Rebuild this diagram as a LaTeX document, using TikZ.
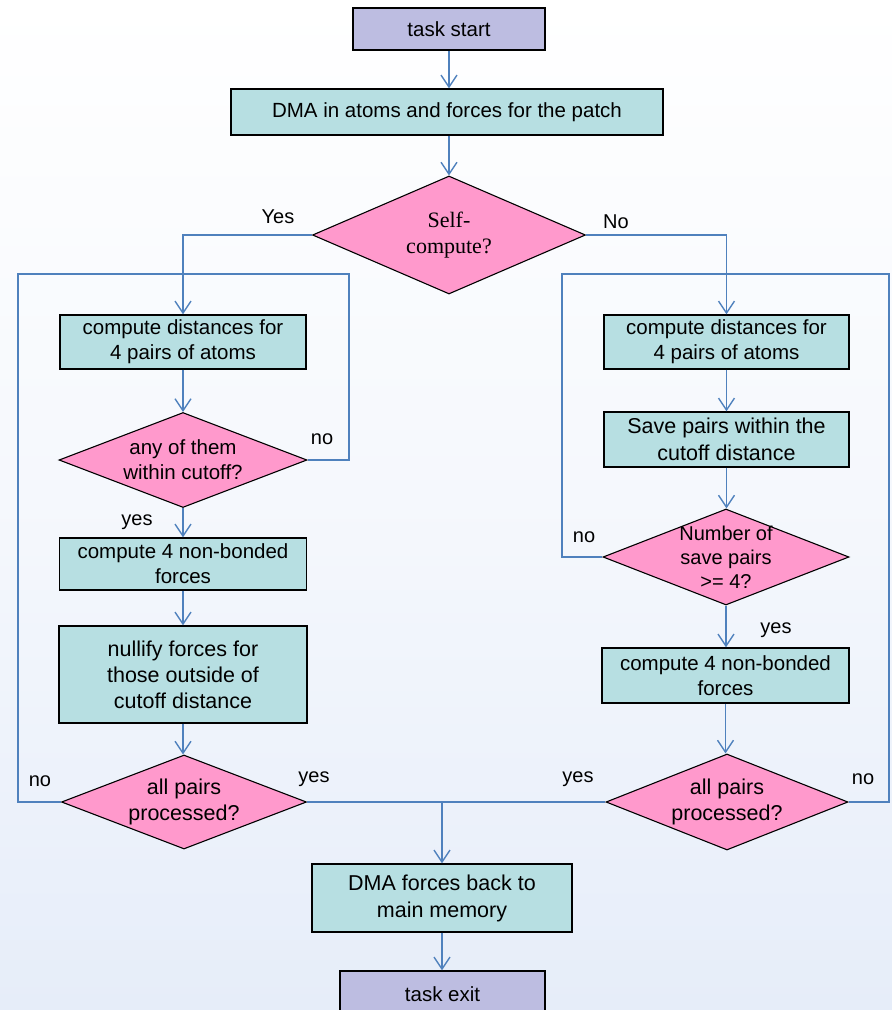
\documentclass[tikz,border=0pt]{standalone}
\usepackage{fontspec}
\setmainfont{Liberation Sans}
\newfontfamily\timesf{Liberation Serif}
\usetikzlibrary{arrows.meta,shapes.geometric}
\definecolor{lav}{HTML}{BDBDE1}
\definecolor{teal}{HTML}{B7DFE2}
\definecolor{pinkd}{HTML}{FF99CC}
\definecolor{flowblue}{HTML}{4F81BD}
\definecolor{bgblue}{HTML}{E6EDF9}
\tikzset{
  box/.style={draw=black, line width=1.3pt, fill=teal, rectangle, inner sep=0pt, align=center,
              font=\fontsize{20.5}{25}\selectfont},
  term/.style={box, fill=lav},
  decision/.style={draw=black, line width=1.1pt, fill=pinkd, diamond, inner sep=0pt, aspect=2.5},
  dlab/.style={align=center, inner sep=0pt, font=\fontsize{20.5}{25}\selectfont},
  flow/.style={draw=flowblue, line width=1.4pt, -{Straight Barb[length=12pt,width=16pt,line width=1.4pt]}},
  line/.style={draw=flowblue, line width=1.4pt},
  lab/.style={inner sep=0pt, font=\fontsize{20}{24}\selectfont}
}
\begin{document}
\begin{tikzpicture}[x=1pt,y=-1pt]
\useasboundingbox (0,0) rectangle (892,1010);
\shade[top color=white, bottom color=bgblue, middle color=white!60!bgblue] (0,0) rectangle (892,1010);

% boxes
\node[term, minimum width=192pt, minimum height=42pt] (start) at (449,29) {task start};
\node[box, minimum width=432pt, minimum height=46pt] (dmain) at (447,112) {DMA in atoms and forces for the patch};
\node[decision, minimum width=273pt, minimum height=118pt,
      label={[dlab, font=\timesf\fontsize{22}{26}\selectfont]center:Self-\\compute?}] (dself) at (449,235) {};

\node[box, minimum width=246pt, minimum height=54pt] (L1) at (183,342) {compute distances for\\4 pairs of atoms};
\node[decision, minimum width=248pt, minimum height=95pt,
      label={[dlab]center:any of them\\within cutoff?}] (dany) at (183,460) {};
\node[box, minimum width=247pt, minimum height=52pt] (L2) at (183,564) {compute 4 non-bonded\\forces};
\node[box, minimum width=248pt, minimum height=97pt, font=\fontsize{21.5}{26}\selectfont] (L3) at (183,674.5) {nullify forces for\\those outside of\\cutoff distance};
\node[decision, minimum width=245pt, minimum height=94pt,
      label={[dlab, font=\fontsize{21.5}{26}\selectfont]center:all pairs\\processed?}] (dallL) at (184,802) {};

\node[box, minimum width=245pt, minimum height=54pt] (R1) at (726.5,342) {compute distances for\\4 pairs of atoms};
\node[box, minimum width=245pt, minimum height=55pt, font=\fontsize{21.5}{27}\selectfont] (R2) at (726.5,439.5) {Save pairs within the\\cutoff distance};
\node[decision, minimum width=246pt, minimum height=96pt,
      label={[dlab, font=\fontsize{20}{24}\selectfont]center:Number of\\save pairs\\>= 4?}] (dnum) at (726,557) {};
\node[box, minimum width=247pt, minimum height=55pt] (R3) at (725.5,675.5) {compute 4 non-bonded\\forces};
\node[decision, minimum width=242pt, minimum height=96pt,
      label={[dlab, font=\fontsize{21.5}{26}\selectfont]center:all pairs\\processed?}] (dallR) at (727,802) {};

\node[box, minimum width=260pt, minimum height=68pt, font=\fontsize{21.5}{27}\selectfont] (dmaout) at (442,898) {DMA forces back to\\main memory};
\node[term, minimum width=205pt, minimum height=46pt] (exit) at (442.5,994) {task exit};

% coordinates for loops
\coordinate (LTM) at (183,274);
\coordinate (LTL) at (18,274);
\coordinate (LTR) at (349,274);
\coordinate (RTM) at (726,274);
\coordinate (RTL) at (562,274);
\coordinate (RTR) at (889,274);
\coordinate (merge) at (442,802);

% connectors
\draw[flow] (start.south) -- (dmain.north -| start.south);
\draw[flow] (dmain.south -| dself.north) -- (dself.north);
\draw[flow] (dself.west) -| (L1.north);
\draw[flow] (dself.east) -| (R1.north);

\draw[flow] (L1.south) -- (L1.south |- dany.north);
\draw[flow] (dany.south) -- (dany.south |- L2.north);
\draw[flow] (L2.south) -- (L2.south |- L3.north);
\draw[flow] (L3.south) -- (L3.south |- dallL.north);
\draw[line] (dany.east) -| (LTR) -- (LTM);
\draw[line] (dallL.west) -| (LTL) -- (LTM);

\draw[flow] (R1.south) -- (R1.south |- R2.north);
\draw[flow] (R2.south) -- (R2.south |- dnum.north);
\draw[flow] (dnum.south) -- (dnum.south |- R3.north);
\draw[flow] (R3.south) -- (R3.south |- dallR.north);
\draw[line] (dnum.west) -| (RTL) -- (RTM);
\draw[line] (dallR.east) -| (RTR) -- (RTM);

\draw[line] (dallL.east) -- (merge);
\draw[line] (dallR.west) -- (merge);
\draw[flow] (merge) -- (dmaout.north);
\draw[flow] (dmaout.south) -- (exit.north -| dmaout.south);

% labels
\node[lab] (lyes1) at (278,217) {Yes};
\node[lab] (lno1) at (616,222) {No};
\node[lab] (lno2) at (322,439) {no};
\node[lab] (lyes2) at (137,522) {yes};
\node[lab] (lno3) at (40,781) {no};
\node[lab] (lyes3) at (314,779) {yes};
\node[lab] (lno4) at (584,537) {no};
\node[lab] (lyes4) at (776,630) {yes};
\node[lab] (lyes5) at (578,779) {yes};
\node[lab] (lno5) at (863,779) {no};
\end{tikzpicture}
\end{document}
